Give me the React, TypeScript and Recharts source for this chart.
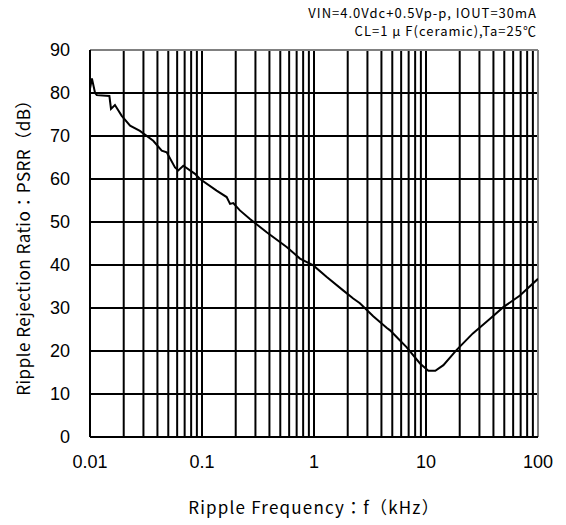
import { LineChart, Line, XAxis, YAxis, ReferenceLine } from "recharts";

// Ripple rejection vs. ripple frequency
const FREQ_KHZ = [
  0.01, 0.0104, 0.0111, 0.0115, 0.0149, 0.0154, 0.0167, 0.0192, 0.0228, 0.0279,
  0.0367, 0.0437, 0.0484, 0.0574, 0.0614, 0.0681, 0.0866, 0.096, 0.135, 0.166,
  0.178, 0.19, 0.218, 0.268, 0.378, 0.57, 0.75, 0.986, 1.3, 1.82, 2.24, 2.57,
  3.38, 4.45, 4.78, 5.63, 6.7, 8.84, 10.5, 12.1, 14.3, 18.7, 26.2, 37.3, 49, 69,
  100,
];
const PSRR_DB = [
  81, 83.4, 80, 79.5, 79.3, 76.3, 77.2, 74.7, 72.4, 71.2,
  68.9, 66.6, 66.2, 62.7, 62.0, 63.1, 61.2, 60.0, 57.3, 55.8,
  54.2, 54.4, 52.7, 50.7, 47.6, 44.2, 41.5, 39.9, 37.2, 34.1, 32.2, 31.1,
  28.1, 25.4, 24.8, 22.9, 20.9, 17.1, 15.4, 15.4, 16.7, 20.2, 24.1, 27.5, 30.2, 32.9,
  36.8,
];

const X_TICKS = [0.01, 0.1, 1, 10, 100];
const X_TICK_LABELS = ["0.01", "0.1", "1", "10", "100"];
const Y_TICKS = [0, 10, 20, 30, 40, 50, 60, 70, 80, 90];
const X_GRID = [
  0.02, 0.03, 0.04, 0.05, 0.06, 0.07, 0.08, 0.09, 0.1,
  0.2, 0.3, 0.4, 0.5, 0.6, 0.7, 0.8, 0.9, 1,
  2, 3, 4, 5, 6, 7, 8, 9, 10,
  20, 30, 40, 50, 60, 70, 80, 90,
];
const Y_GRID = [10, 20, 30, 40, 50, 60, 70, 80];

const NUM_FONT = "'Liberation Sans', Arial, sans-serif";
const JP_FONT = "'Noto Sans CJK JP', 'Liberation Sans', sans-serif";

export default function App() {
  const data = FREQ_KHZ.map((f, i) => ({ f, psrr: PSRR_DB[i] }));

  return (
    <div style={{ position: "absolute", left: 0, top: 0, width: 566, height: 525, background: "#fff" }}>
      <div
        style={{
          position: "absolute",
          right: 29,
          top: 4,
          textAlign: "right",
          fontFamily: JP_FONT,
          fontSize: 13,
          letterSpacing: 1,
          lineHeight: "18px",
          color: "#000",
        }}
      >
        <div>VIN=4.0Vdc+0.5Vp-p, IOUT=30mA</div>
        <div>CL=1 μ F(ceramic),Ta=25℃</div>
      </div>
      <LineChart width={566} height={525} data={data} margin={{ top: 50, right: 28, bottom: 8, left: 0 }}>
        {X_GRID.map((v) => (
          <ReferenceLine key={"x" + v} x={v} stroke="#000" strokeWidth={2} />
        ))}
        {Y_GRID.map((v) => (
          <ReferenceLine key={"y" + v} y={v} stroke="#000" strokeWidth={2} />
        ))}
        <ReferenceLine y={90} stroke="#808080" strokeWidth={2} />
        <ReferenceLine x={100} stroke="#808080" strokeWidth={2} />
        <XAxis
          dataKey="f"
          type="number"
          scale="log"
          domain={[0.01, 100]}
          ticks={X_TICKS}
          tickFormatter={(v: number) => X_TICK_LABELS[X_TICKS.indexOf(v)] ?? String(v)}
          allowDataOverflow
          height={80}
          tickSize={0}
          tickMargin={18}
          tickLine={false}
          axisLine={{ stroke: "#000", strokeWidth: 2 }}
          tick={{ fill: "#000", fontSize: 18, fontFamily: NUM_FONT }}
          label={{
            value: "Ripple Frequency：f（kHz）",
            position: "insideBottom",
            offset: 3,
            fill: "#000",
            fontSize: 17,
            fontFamily: JP_FONT,
            style: { letterSpacing: "1.2px" },
          }}
        />
        <YAxis
          type="number"
          domain={[0, 90]}
          ticks={Y_TICKS}
          width={90}
          tickSize={0}
          tickMargin={20}
          tickLine={false}
          axisLine={{ stroke: "#000", strokeWidth: 2 }}
          tick={{ fill: "#000", fontSize: 18, fontFamily: NUM_FONT }}
          label={{
            value: "Ripple Rejection Ratio：PSRR（dB）",
            angle: -90,
            position: "insideLeft",
            offset: 24,
            fill: "#000",
            fontSize: 17,
            fontFamily: JP_FONT,
            style: { textAnchor: "middle", letterSpacing: "0.5px" },
          }}
        />
        <Line
          type="linear"
          dataKey="psrr"
          stroke="#000"
          strokeWidth={2}
          dot={false}
          isAnimationActive={false}
        />
      </LineChart>
    </div>
  );
}
